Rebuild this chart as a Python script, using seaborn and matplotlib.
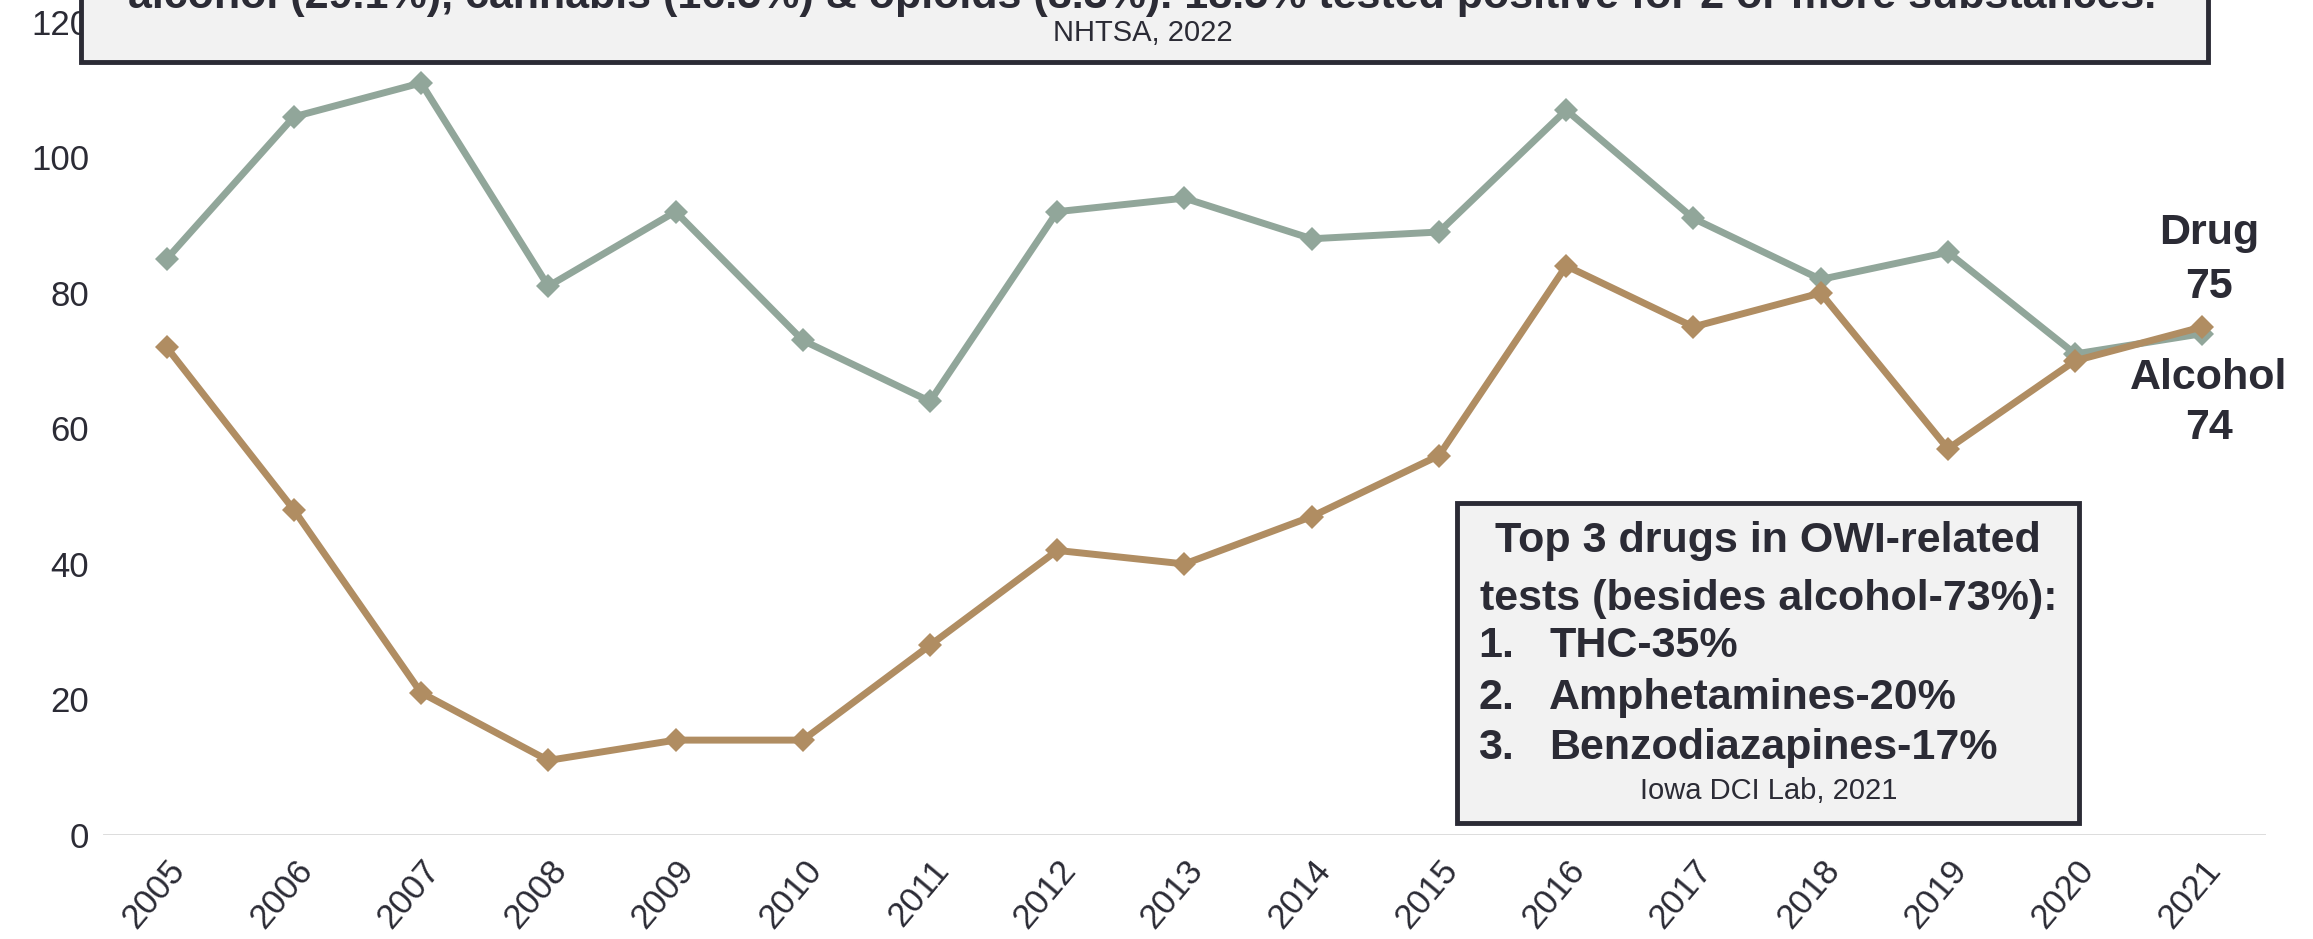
import pandas as pd
import seaborn as sns
import matplotlib.pyplot as plt
from matplotlib.patches import Rectangle

# donnees
years = list(range(2005, 2022))
alcohol = [85, 106, 111, 81, 92, 73, 64, 92, 94, 88, 89, 107, 91, 82, 86, 71, 74]
drug = [72, 48, 21, 11, 14, 14, 28, 42, 40, 47, 56, 84, 75, 80, 57, 70, 75]
series_names = ["Alcohol", "Drug"]
colors = {"Alcohol": "#91A69A", "Drug": "#B08D62"}

top_line = "alcohol (29.1%), cannabis (16.5%) & opioids (8.3%). 18.5% tested positive for 2 or more substances."
top_source = "NHTSA, 2022"
box_title = ["Top 3 drugs in OWI-related", "tests (besides alcohol-73%):"]
box_items = ["THC-35%", "Amphetamines-20%", "Benzodiazapines-17%"]
box_source = "Iowa DCI Lab, 2021"

df = pd.DataFrame({
    "year": years * 2,
    "value": alcohol + drug,
    "series": ["Alcohol"] * len(years) + ["Drug"] * len(years),
})

sns.set_style("white")
font = ["Liberation Sans", "DejaVu Sans"]
plt.rcParams["font.family"] = font
dark = "#2B2B35"

fig = plt.figure(figsize=(23.13, 9.39), dpi=100)
ax = fig.add_axes([0.0445, 0.1108, 0.9352, 0.8658])

sns.lineplot(data=df, x="year", y="value", hue="series", hue_order=series_names,
             palette=colors, marker="D", markersize=12.5, markeredgewidth=0,
             linewidth=5, dashes=False, legend=False, ax=ax)

ax.set_xlim(2004.5, 2021.5)
ax.set_ylim(0, 120)
ax.set_xticks(years)
ax.set_yticks(range(0, 121, 20))
ax.set_xticklabels([str(y) for y in years], rotation=50, ha="right",
                   rotation_mode="anchor", fontsize=25, color=dark)
ax.set_yticklabels([str(v) for v in range(0, 121, 20)], fontsize=25, color=dark)
ax.tick_params(axis="both", length=0, pad=10)
ax.tick_params(axis="x", pad=14)
ax.set_xlabel("")
ax.set_ylabel("")
sns.despine(ax=ax, left=True, bottom=True)
ax.axhline(0, color="#D9D9D9", lw=2, zorder=0)

# etiquettes de fin de serie
end_labels = [("Drug", 88.9), ("75", 80.9), ("Alcohol", 67.4), ("74", 60.0)]
for txt, yy in end_labels:
    ax.text(2021.05, yy, txt, ha="center", va="center", fontsize=31,
            fontweight="bold", color=dark, clip_on=False)

# encadre du haut (coupe par le bord)
fig.patches.append(Rectangle((0.035, 0.934), 0.9196, 0.2, transform=fig.transFigure,
                             facecolor="#F2F2F2", edgecolor=dark, lw=3.5, zorder=5))
fig.text(0.494, 0.9915, top_line, ha="center", va="baseline", fontsize=31,
         fontweight="bold", color=dark, zorder=6)
fig.text(0.494, 0.965, top_source, ha="center", va="center", fontsize=21,
         color=dark, zorder=6)

# encadre des drogues
fig.patches.append(Rectangle((0.630, 0.1235), 0.269, 0.3408, transform=fig.transFigure,
                             facecolor="#F2F2F2", edgecolor=dark, lw=3.5, zorder=5))
for txt, yy in zip(box_title, [0.4239, 0.362]):
    fig.text(0.7645, yy, txt, ha="center", va="center", fontsize=31,
             fontweight="bold", color=dark, zorder=6)
for i, (txt, yy) in enumerate(zip(box_items, [0.312, 0.2567, 0.2034])):
    fig.text(0.639, yy, f"{i + 1}.", ha="left", va="center", fontsize=31,
             fontweight="bold", color=dark, zorder=6)
    fig.text(0.6697, yy, txt, ha="left", va="center", fontsize=31,
             fontweight="bold", color=dark, zorder=6)
fig.text(0.7645, 0.1576, box_source, ha="center", va="center", fontsize=21,
         color=dark, zorder=6)

fig.savefig("out.png", dpi=100)
